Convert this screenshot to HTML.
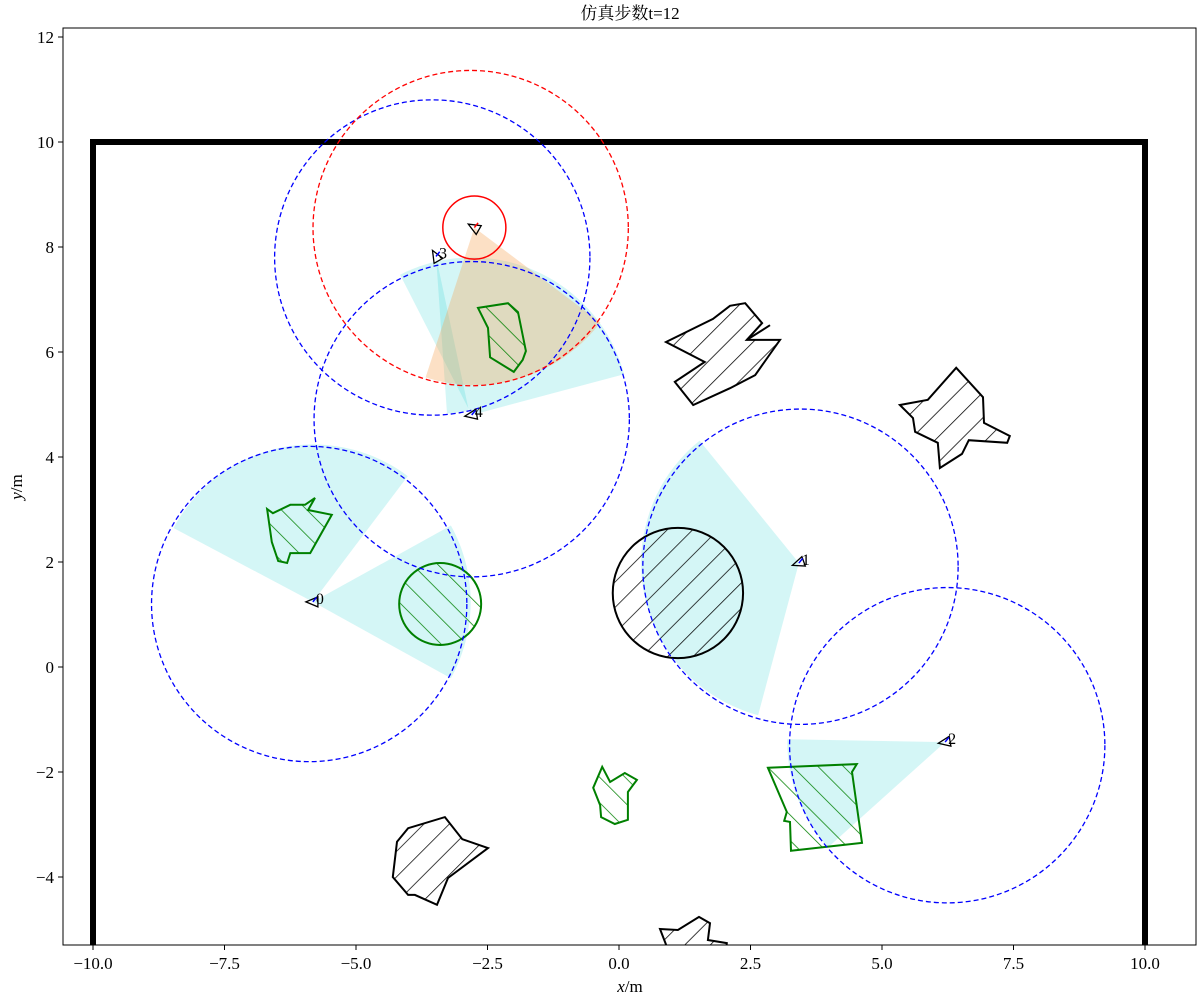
<!DOCTYPE html>
<html><head><meta charset="utf-8">
<style>
body{margin:0;background:#fff;}
svg{display:block;font-family:"Liberation Serif","Noto Serif CJK SC",serif;}
</style></head>
<body>
<svg id="chart" width="1200" height="1000" viewBox="0 0 1200 1000" xmlns="http://www.w3.org/2000/svg">
<defs>
<pattern id="hatchBlack" patternUnits="userSpaceOnUse" width="18" height="18" patternTransform="rotate(45)">
<line x1="0" y1="0" x2="0" y2="18" stroke="#000" stroke-width="1.5"/>
</pattern>
<pattern id="hatchGreen" patternUnits="userSpaceOnUse" width="18" height="18" patternTransform="rotate(-45)">
<line x1="0" y1="0" x2="0" y2="18" stroke="green" stroke-width="1.5"/>
</pattern>
<clipPath id="axclip"><rect x="63" y="28" width="1133" height="917"/></clipPath>
</defs>
<text x="630" y="19" text-anchor="middle" font-size="17">仿真步数t=12</text>
<g id="plot" clip-path="url(#axclip)"></g>
<rect x="63" y="28" width="1133" height="917" fill="none" stroke="#000" stroke-width="1"/>
<g id="axes"></g>
<text x="630" y="992" text-anchor="middle" font-size="17"><tspan font-style="italic">x</tspan>/m</text>
<text x="22" y="487" text-anchor="middle" font-size="17" transform="rotate(-90 22 487)"><tspan font-style="italic">y</tspan>/m</text>
</svg>
<script>
const xTicks=[-10,-7.5,-5,-2.5,0,2.5,5,7.5,10];
const yTicks=[-4,-2,0,2,4,6,8,10,12];
const boundary=[[-10,-6],[-10,10],[10,10],[10,-6]];
const robotIds=['0','1','2','3','4'];
const robotX=[-5.82,3.42,6.2,-3.48,-2.8];
const robotY=[1.24,1.98,-1.43,7.82,4.8];
const robotHeading=[180,200,190,120,190];
const sensorCX=[-5.89,3.45,6.24,-3.55,-2.8];
const sensorCY=[1.2,1.91,-1.49,7.8,4.72];
const sensorR=[3,3,3,3,3];
const wedgeRobot=[0,0,4,3,1,2];
const wedgeA1=[53,-29,15,-86,129,179];
const wedgeA2=[152,29,117,-78,255,222];
const wedgeR=[3,3,3,3,3,3];
const evaderX=-2.75, evaderY=8.37, evaderSmallR=0.6, evaderBigR=3.0, evaderCX=-2.82, evaderCY=8.36;
const evaderWedge=[-108,-37];
const blackCircle=[1.12,1.41,1.24];
const greenCircle=[-3.4,1.2,0.78];
const blackPolys=[
 [[0.894,6.19],[1.787,6.63],[2.11,6.88],[2.40,6.93],[2.72,6.55],[2.43,6.23],[3.06,6.23],[2.59,5.56],[2.11,5.31],[1.41,4.99],[1.06,5.43],[1.63,5.81]],
 [[5.34,4.99],[5.87,5.09],[6.41,5.70],[6.92,5.14],[6.94,4.65],[7.43,4.40],[7.38,4.27],[6.65,4.32],[6.52,4.06],[6.10,3.79],[6.06,4.27],[5.63,4.48],[5.59,4.74]],
 [[-4.30,-4.0],[-4.22,-3.33],[-4.01,-3.07],[-3.31,-2.86],[-2.98,-3.28],[-2.49,-3.45],[-3.25,-4.02],[-3.46,-4.53],[-3.88,-4.34],[-4.01,-4.34]],
 [[0.78,-4.99],[1.12,-5.01],[1.52,-4.76],[1.73,-4.88],[1.69,-5.2],[2.05,-5.26],[2.0,-5.7],[0.95,-5.7],[0.9,-5.3]]
];
const greenPolys=[
 [[-0.32,-1.90],[-0.17,-2.19],[0.11,-2.02],[0.34,-2.15],[0.17,-2.38],[0.17,-2.91],[-0.08,-2.99],[-0.34,-2.86],[-0.36,-2.63],[-0.49,-2.30]],
 [[2.83,-1.92],[4.52,-1.85],[4.43,-2.0],[4.62,-3.35],[3.27,-3.50],[3.25,-2.95],[3.14,-2.93],[3.19,-2.76]],
 [[-6.69,3.01],[-6.58,2.93],[-6.25,3.09],[-5.97,3.09],[-5.78,3.22],[-5.91,2.99],[-5.46,2.90],[-5.87,2.17],[-6.25,2.17],[-6.31,1.98],[-6.48,2.02],[-6.60,2.38]],
 [[-2.68,6.84],[-2.11,6.93],[-1.92,6.76],[-1.77,6.02],[-1.83,5.85],[-2.00,5.62],[-2.45,5.90],[-2.49,6.46]]
];
const stub=[[2.43,6.23],[2.87,6.51]];

const NS='http://www.w3.org/2000/svg';
const sx=v=>619+52.6*v, sy=v=>667-52.5*v, sr=v=>52.55*v;
const plot=document.getElementById('plot'), axes=document.getElementById('axes');
function mk(tag,attrs,parent){const e=document.createElementNS(NS,tag);for(const k in attrs)e.setAttribute(k,attrs[k]);parent.appendChild(e);return e;}
function ptsStr(p){return p.map(q=>sx(q[0]).toFixed(1)+','+sy(q[1]).toFixed(1)).join(' ');}
function wedgePts(cx,cy,r,a1,a2){const p=[[cx,cy]];for(let i=0;i<=40;i++){const a=(a1+(a2-a1)*i/40)*Math.PI/180;p.push([cx+r*Math.cos(a),cy+r*Math.sin(a)]);}return p;}

for(let i=0;i<wedgeRobot.length;i++){const k=wedgeRobot[i];
 const w=mk('polygon',{points:ptsStr(wedgePts(robotX[k],robotY[k],wedgeR[i],wedgeA1[i],wedgeA2[i])),fill:'#00c8c8','fill-opacity':'0.17'},plot);
 
 }
const ew=mk('polygon',{points:ptsStr(wedgePts(evaderX,evaderY,evaderBigR,evaderWedge[0],evaderWedge[1])),fill:'#f5a050','fill-opacity':'0.33'},plot);



const b=mk('polyline',{points:ptsStr(boundary),fill:'none',stroke:'#000','stroke-width':'6'},plot);



blackPolys.forEach((p,i)=>{const e=mk('polygon',{points:ptsStr(p),fill:'url(#hatchBlack)',stroke:'#000','stroke-width':'2','stroke-linejoin':'miter'},plot);
 
 });
const st=mk('polyline',{points:ptsStr(stub),fill:'none',stroke:'#000','stroke-width':'2'},plot);


greenPolys.forEach((p,i)=>{const e=mk('polygon',{points:ptsStr(p),fill:'url(#hatchGreen)',stroke:'green','stroke-width':'2'},plot);
 
 });
const bc=mk('circle',{cx:sx(blackCircle[0]),cy:sy(blackCircle[1]),r:sr(blackCircle[2]),fill:'url(#hatchBlack)',stroke:'#000','stroke-width':'2'},plot);


const gc=mk('circle',{cx:sx(greenCircle[0]),cy:sy(greenCircle[1]),r:sr(greenCircle[2]),fill:'url(#hatchGreen)',stroke:'green','stroke-width':'2'},plot);



for(let k=0;k<robotIds.length;k++){
 const c=mk('circle',{cx:sx(sensorCX[k]),cy:sy(sensorCY[k]),r:sr(sensorR[k]),fill:'none',stroke:'blue','stroke-width':'1.3','stroke-dasharray':'5,3'},plot);
 
 }
const rc=mk('circle',{cx:sx(evaderCX),cy:sy(evaderCY),r:sr(evaderBigR),fill:'none',stroke:'red','stroke-width':'1.3','stroke-dasharray':'5,3'},plot);


const rs=mk('circle',{cx:sx(evaderX),cy:sy(evaderY),r:sr(evaderSmallR),fill:'none',stroke:'red','stroke-width':'1.5'},plot);



function tri(x,y,h,color,name){const px=sx(x),py=sy(y);const a=h*Math.PI/180;const pts=[];
 [[7,0],[-5,5],[-5,-5]].forEach(q=>{pts.push((px+q[0]*Math.cos(a)-q[1]*Math.sin(a)).toFixed(1)+','+(py-(q[0]*Math.sin(a)+q[1]*Math.cos(a))).toFixed(1));});
 const t=mk('polygon',{points:pts.join(' '),fill:'none',stroke:'#000','stroke-width':'1.3'},plot);
 
 
 const l=mk('line',{x1:px,y1:py,x2:px+6*Math.cos(0.9),y2:py-6*Math.sin(0.9),stroke:color,'stroke-width':'1.5'},plot);
 
 }
for(let k=0;k<robotIds.length;k++){
 tri(robotX[k],robotY[k],robotHeading[k],'blue','robot-'+robotIds[k]);
 const t=mk('text',{x:sx(robotX[k])+3,y:sy(robotY[k])+2,'font-size':'16'},plot);t.textContent=robotIds[k];
 
 }
tri(evaderX,evaderY,150,'red','evader');

xTicks.forEach(v=>{const x=sx(v);
 const l=mk('line',{x1:x,y1:945,x2:x,y2:950,stroke:'#000','stroke-width':'1'},axes);
 
 
 const t=mk('text',{x:x,y:969,'text-anchor':'middle','font-size':'17'},axes);t.textContent=v.toFixed(1).replace('-','\u2212');
 
 });
yTicks.forEach(v=>{const y=sy(v);
 const l=mk('line',{x1:58,y1:y,x2:63,y2:y,stroke:'#000','stroke-width':'1'},axes);
 
 
 const t=mk('text',{x:54,y:y+6,'text-anchor':'end','font-size':'17'},axes);t.textContent=String(v).replace('-','\u2212');
 
 });
</script>
</body></html>
